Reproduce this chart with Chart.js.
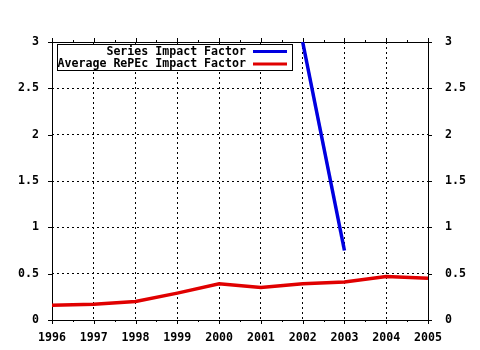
<!DOCTYPE html>
<html>
<head>
<meta charset="utf-8">
<script src="https://cdn.jsdelivr.net/npm/chart.js@4.4.1/dist/chart.umd.min.js"></script>
<style>
html,body{margin:0;padding:0;background:#fff;}
#wrap{width:480px;height:350px;}
</style>
</head>
<body>
<div id="wrap"><canvas id="c" width="480" height="350"></canvas></div>
<script>
const years = [1996, 1997, 1998, 1999, 2000, 2001, 2002, 2003, 2004, 2005];
const seriesYears = [2002, 2003];
const seriesImpact = [3.0, 0.75];
const averageImpact = [0.16, 0.17, 0.20, 0.29, 0.39, 0.35, 0.39, 0.41, 0.47, 0.45];
const yTickValues = [0, 0.5, 1, 1.5, 2, 2.5, 3];
const yTickLabels = ['0', '0.5', '1', '1.5', '2', '2.5', '3'];
const seriesLabels = ['Series Impact Factor', 'Average RePEc Impact Factor'];

const FONT = 'bold 11.6px "DejaVu Sans Mono", "Liberation Mono", monospace';
const fontObj = {family: '"DejaVu Sans Mono", "Liberation Mono", monospace', size: 11.6, weight: 'bold'};

function yLabel(v) {
  const i = yTickValues.findIndex(t => Math.abs(t - v) < 1e-9);
  return i >= 0 ? yTickLabels[i] : '';
}

const framePlugin = {
  id: 'frame',
  beforeDatasetsDraw(chart) {
    const {ctx, chartArea: a, scales} = chart;
    ctx.save();
    ctx.strokeStyle = '#000';
    ctx.lineWidth = 1;
    ctx.beginPath();
    for (let yr = years[0]; yr <= years[years.length - 1] + 1e-9; yr += 0.5) {
      const x = Math.round(scales.x.getPixelForValue(yr)) + 0.5;
      const len = Number.isInteger(yr) ? 4 : 2;
      ctx.moveTo(x, a.bottom); ctx.lineTo(x, a.bottom + len);
      ctx.moveTo(x, a.top); ctx.lineTo(x, a.top - len);
    }
    yTickValues.forEach(v => {
      const y = Math.round(scales.y.getPixelForValue(v)) + 0.5;
      ctx.moveTo(a.left, y); ctx.lineTo(a.left - 4, y);
      ctx.moveTo(a.right, y); ctx.lineTo(a.right + 4, y);
    });
    ctx.stroke();
    ctx.strokeRect(Math.round(a.left) + 0.5, Math.round(a.top) + 0.5,
                   Math.round(a.right - a.left), Math.round(a.bottom - a.top));
    ctx.restore();
  },
  afterDatasetsDraw(chart) {
    const {ctx, chartArea: a} = chart;
    ctx.save();
    const bx = a.left + 5.5, by = a.top + 2.5, bw = 235, bh = 26;
    ctx.fillStyle = '#fff';
    ctx.fillRect(bx, by, bw, bh);
    ctx.strokeStyle = '#000';
    ctx.lineWidth = 1;
    ctx.strokeRect(bx, by, bw, bh);
    ctx.font = FONT;
    ctx.textAlign = 'right';
    ctx.textBaseline = 'middle';
    ctx.fillStyle = '#000';
    const rows = [a.top + 9.5, a.top + 22];
    chart.data.datasets.forEach((ds, i) => {
      ctx.fillText(ds.label, a.left + 194, rows[i]);
      ctx.strokeStyle = ds.borderColor;
      ctx.lineWidth = 3;
      ctx.beginPath();
      ctx.moveTo(a.left + 201, rows[i]);
      ctx.lineTo(a.left + 235, rows[i]);
      ctx.stroke();
    });
    ctx.restore();
  }
};

new Chart(document.getElementById('c'), {
  type: 'line',
  data: {
    datasets: [
      {
        label: seriesLabels[0],
        data: seriesYears.map((x, i) => ({x, y: seriesImpact[i]})),
        borderColor: '#0000e0',
        borderWidth: 3.5,
        pointRadius: 0,
        tension: 0,
        fill: false
      },
      {
        label: seriesLabels[1],
        data: years.map((x, i) => ({x, y: averageImpact[i]})),
        borderColor: '#e00000',
        borderWidth: 3.5,
        pointRadius: 0,
        tension: 0,
        fill: false
      }
    ]
  },
  options: {
    responsive: false,
    animation: false,
    devicePixelRatio: 1,
    layout: {padding: {top: 42, left: 0, right: 0, bottom: 0}},
    plugins: {legend: {display: false}, tooltip: {enabled: false}},
    scales: {
      x: {
        type: 'linear',
        min: years[0],
        max: years[years.length - 1],
        afterFit(s) { s.height = 30; },
        ticks: {
          stepSize: 1,
          color: '#000',
          font: fontObj,
          padding: 11,
          maxRotation: 0,
          callback: v => String(v)
        },
        grid: {color: '#000', lineWidth: 1, drawTicks: false},
        border: {display: false, dash: [2, 3]}
      },
      y: {
        position: 'left',
        min: 0,
        max: 3,
        afterFit(s) { s.width = 52; },
        ticks: {stepSize: 0.5, color: '#000', font: fontObj, padding: 13, callback: v => yLabel(v)},
        grid: {color: '#000', lineWidth: 1, drawTicks: false},
        border: {display: false, dash: [2, 3]}
      },
      y2: {
        position: 'right',
        min: 0,
        max: 3,
        afterFit(s) { s.width = 52; },
        ticks: {stepSize: 0.5, color: '#000', font: fontObj, padding: 17, callback: v => yLabel(v)},
        grid: {display: false, drawTicks: false},
        border: {display: false}
      }
    }
  },
  plugins: [framePlugin]
});
</script>
</body>
</html>
